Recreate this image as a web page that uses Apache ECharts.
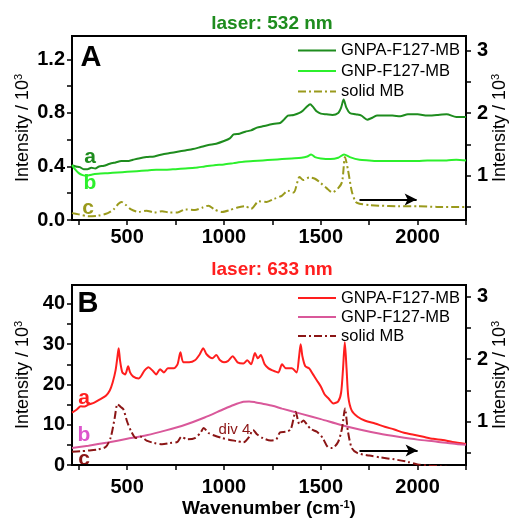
<!DOCTYPE html>
<html>
<head>
<meta charset="utf-8">
<script src="https://cdn.jsdelivr.net/npm/echarts@6/dist/echarts.min.js"></script>
<style>html,body{margin:0;padding:0;background:#fff}#c{width:509px;height:519px}</style>
</head>
<body>
<div id="c"></div>
<script>
// ---------- DATA ----------
var xTickLabels = [500, 1000, 1500, 2000];
var xTicks = [250, 500, 750, 1000, 1250, 1500, 1750, 2000, 2250];
var leftTicksA = [0, 0.2, 0.4, 0.6, 0.8, 1.0, 1.2];
var leftLabelsA = [0, 0.4, 0.8, 1.2];
var leftTicksB = [0, 5, 10, 15, 20, 25, 30, 35, 40];
var leftLabelsB = [0, 10, 20, 30, 40];
var rightTicks = [0.5, 1, 1.5, 2, 2.5, 3];
var rightLabels = [1, 2, 3];

// Panel A (532 nm)
var gnpaA = [[215,0.41],[235,0.40],[255,0.395],[275,0.38],[295,0.38],[315,0.39],[335,0.385],[355,0.40],[380,0.405],[410,0.42],[440,0.43],[470,0.44],[500,0.44],[530,0.45],[560,0.46],[600,0.47],[640,0.475],[680,0.49],[720,0.50],[760,0.51],[800,0.52],[840,0.53],[880,0.545],[920,0.56],[960,0.57],[1000,0.59],[1030,0.61],[1050,0.64],[1080,0.645],[1110,0.66],[1140,0.67],[1170,0.69],[1200,0.70],[1230,0.71],[1260,0.72],[1290,0.725],[1310,0.75],[1330,0.78],[1360,0.785],[1390,0.80],[1410,0.82],[1430,0.85],[1445,0.865],[1460,0.845],[1480,0.81],[1500,0.795],[1530,0.79],[1560,0.785],[1590,0.80],[1605,0.84],[1618,0.90],[1632,0.84],[1650,0.80],[1680,0.79],[1710,0.78],[1740,0.75],[1760,0.76],[1790,0.78],[1830,0.78],[1870,0.78],[1910,0.775],[1950,0.79],[2000,0.79],[2050,0.78],[2100,0.785],[2150,0.79],[2200,0.77],[2250,0.77]];
var gnpA = [[215,0.41],[230,0.38],[250,0.35],[270,0.335],[290,0.33],[320,0.34],[350,0.345],[400,0.35],[450,0.355],[500,0.36],[550,0.365],[600,0.37],[650,0.375],[700,0.375],[750,0.38],[800,0.385],[850,0.39],[900,0.40],[950,0.41],[1000,0.415],[1050,0.425],[1100,0.435],[1150,0.44],[1200,0.445],[1250,0.45],[1300,0.455],[1350,0.46],[1400,0.465],[1430,0.475],[1450,0.49],[1470,0.47],[1500,0.46],[1550,0.455],[1590,0.465],[1620,0.49],[1650,0.47],[1700,0.45],[1750,0.445],[1800,0.44],[1850,0.44],[1900,0.44],[1950,0.44],[2000,0.44],[2050,0.445],[2100,0.445],[2150,0.445],[2200,0.45],[2250,0.445]];
var mbA = [[215,0.40],[250,0.38],[300,0.35],[350,0.36],[400,0.40],[430,0.46],[455,0.55],[470,0.58],[490,0.54],[520,0.46],[560,0.42],[600,0.44],[640,0.41],[680,0.43],[720,0.41],[760,0.41],[800,0.46],[850,0.45],[890,0.49],[920,0.52],[950,0.46],[990,0.42],[1030,0.45],[1070,0.49],[1110,0.51],[1140,0.47],[1180,0.59],[1220,0.58],[1260,0.63],[1300,0.68],[1330,0.76],[1360,0.73],[1390,0.98],[1410,0.93],[1440,0.97],[1470,0.95],[1500,0.88],[1530,0.80],[1560,0.73],[1590,0.80],[1610,0.90],[1625,1.30],[1640,1.10],[1660,0.75],[1680,0.58],[1700,0.55],[1750,0.53],[1800,0.52],[1900,0.51],[2000,0.51],[2100,0.50],[2200,0.50],[2250,0.50]];
var arrowA = [[1700, 0.62], [1995, 0.62]];

// Panel B (633 nm)
var gnpaB = [[215,13.0],[240,13.8],[260,14.6],[280,14.5],[300,15.0],[330,15.5],[360,16.3],[390,17.2],[410,18.5],[425,20.5],[440,23.5],[450,27],[456,29],[463,26],[475,23],[490,22.5],[505,24.5],[515,23],[530,22],[560,21.5],[590,23.5],[610,24.3],[630,23.5],[650,22.5],[670,23.8],[690,23],[710,24],[740,24],[760,25],[775,28],[790,25.5],[820,25.5],[850,26],[875,27.5],[893,29],[910,27.5],[940,26.5],[960,27.3],[980,26],[1000,25.5],[1020,25.8],[1045,27],[1070,25.5],[1100,25.2],[1120,26],[1140,25],[1160,27.8],[1175,26.5],[1190,27.3],[1210,25],[1230,24],[1250,23.5],[1280,23],[1300,25],[1320,24],[1350,24],[1375,23],[1388,27],[1396,30],[1405,27],[1420,24.5],[1440,24],[1460,22.5],[1480,21],[1500,19.5],[1520,17.5],[1540,16.5],[1565,15.3],[1590,15.8],[1605,18],[1615,24],[1624,30.5],[1633,24],[1642,17],[1660,13.5],[1690,12],[1730,11],[1780,10.3],[1830,9.5],[1880,8.8],[1930,8],[1980,7.5],[2030,7],[2080,6.5],[2130,6.2],[2180,5.7],[2250,5.2]];
var gnpB = [[215,4.2],[300,4.8],[400,5.6],[500,6.5],[600,7.4],[700,8.6],[800,10.0],[900,11.8],[1000,13.9],[1050,14.9],[1100,15.7],[1130,15.8],[1160,15.6],[1200,15.2],[1250,14.7],[1300,14.0],[1400,12.7],[1500,11.4],[1600,10.0],[1700,8.8],[1800,7.8],[1900,7.0],[2000,6.3],[2100,5.8],[2200,5.2],[2250,5.0]];
var mbB = [[215,0.52],[260,0.53],[300,0.54],[350,0.56],[390,0.60],[415,0.75],[435,1.05],[450,1.28],[465,1.24],[480,1.20],[500,1.00],[520,0.85],[545,0.74],[570,0.76],[600,0.70],[640,0.66],[680,0.64],[720,0.66],[760,0.68],[780,0.76],[810,0.72],[850,0.74],[880,0.83],[895,0.90],[920,0.82],[950,0.78],[990,0.74],[1030,0.71],[1070,0.69],[1100,0.67],[1130,0.76],[1150,0.87],[1170,0.80],[1200,0.74],[1240,0.70],[1270,0.72],[1290,0.83],[1320,0.84],[1345,0.88],[1370,1.16],[1390,0.96],[1410,1.02],[1430,0.95],[1450,0.88],[1480,0.84],[1510,0.74],[1535,0.60],[1560,0.58],[1590,0.68],[1610,0.90],[1625,1.21],[1640,0.85],[1660,0.58],[1690,0.50],[1750,0.46],[1810,0.43],[1880,0.40],[1950,0.36],[2000,0.32],[2060,0.30],[2120,0.29],[2180,0.27],[2250,0.26]];
var arrowB = [[1700, 0.54], [2000, 0.54]];
var divLabel = [1054, 0.87];

// ---------- CHART ----------
var FONT = "'Liberation Sans', Arial, sans-serif";
var chart = echarts.init(document.getElementById('c'));

function xAxis(gridIndex, margin, name) {
  return {
    type: 'value', gridIndex: gridIndex, min: 215, max: 2250,
    axisLine: { lineStyle: { color: '#000', width: 2 } },
    axisTick: { show: true, length: 5, lineStyle: { color: '#000', width: 1.5 }, customValues: xTicks },
    axisLabel: { customValues: xTickLabels, margin: margin, color: '#000', fontSize: 20, fontWeight: 'bold', fontFamily: FONT,
      formatter: function (v) { return String(v); } },
    splitLine: { show: false },
    name: name || '', nameLocation: 'middle', nameGap: 34, nameMoveOverlap: false,
    nameTextStyle: { color: '#000', fontSize: 19, fontWeight: 'bold', fontFamily: FONT,
      rich: { sup: { fontSize: 11, fontWeight: 'bold', fontFamily: FONT, color: '#000', padding: [0, 0, 9, 0] } } }
  };
}
function yAxis(gridIndex, pos, min, max, ticks, labels, fmt, margin, gap) {
  return {
    type: 'value', gridIndex: gridIndex, position: pos, min: min, max: max,
    axisLine: { show: true, onZero: false, lineStyle: { color: '#000', width: 2 } },
    axisTick: { show: true, length: 5, lineStyle: { color: '#000', width: 1.5 }, customValues: ticks },
    axisLabel: { customValues: labels, margin: margin, color: '#000', fontSize: 20, fontWeight: 'bold', fontFamily: FONT, formatter: fmt },
    splitLine: { show: false },
    name: 'Intensity / 10{sup|3}', nameLocation: 'middle', nameGap: gap, nameRotate: 90, nameMoveOverlap: false,
    nameTextStyle: { color: '#000', fontSize: 18, fontFamily: FONT,
      rich: { sup: { fontSize: 11, fontFamily: FONT, color: '#000', padding: [0, 0, 9, 0] } } }
  };
}
function line(name, data, xi, yi, color, dashed, extra) {
  var s = {
    type: 'line', name: name, data: data, xAxisIndex: xi, yAxisIndex: yi,
    showSymbol: false, symbol: 'none', smooth: 0.25, clip: true, animation: false,
    lineStyle: { color: color, width: 2, type: dashed ? [8, 3, 2, 3] : 'solid' },
    itemStyle: { color: color }
  };
  if (extra) for (var k in extra) s[k] = extra[k];
  return s;
}
function arrowLine(pts) {
  return {
    silent: true, symbol: ['none', 'arrow'], symbolSize: [9, 12], animation: false,
    lineStyle: { color: '#000', width: 2, type: 'solid' }, label: { show: false },
    data: [[{ coord: pts[0] }, { coord: pts[1] }]]
  };
}
var legendText = { color: '#000', fontSize: 16.5, fontFamily: FONT };
function txt(x, y, t, color, size) {
  return { type: 'text', x: x, y: y, style: { text: t, fill: color, fontSize: size, fontWeight: 'bold', fontFamily: FONT, textAlign: 'center', textVerticalAlign: 'middle' } };
}

var cA1 = '#1e8c1e', cA2 = '#2cf02c', cA3 = '#9a9a1c';
var cB1 = '#ff1e1e', cB2 = '#d9589a', cB3 = '#8b1515';

chart.setOption({
  animation: false,
  grid: [
    { left: 72, right: 43, top: 36, height: 184, show: true, borderColor: '#000', borderWidth: 2, containLabel: false, outerBoundsMode: 'none' },
    { left: 72, right: 43, top: 285, height: 180, show: true, borderColor: '#000', borderWidth: 2, containLabel: false, outerBoundsMode: 'none' }
  ],
  xAxis: [xAxis(0, 7), xAxis(1, 12, 'Wavenumber (cm{sup|-1})')],
  yAxis: [
    yAxis(0, 'left', 0, 1.375, leftTicksA, leftLabelsA, function (v) { return v.toFixed(1); }, 7, 39),
    yAxis(0, 'right', 0.29, 3.235, rightTicks, rightLabels, function (v) { return String(v); }, 11, 24),
    yAxis(1, 'left', 0, 44.7, leftTicksB, leftLabelsB, function (v) { return String(v); }, 7, 39),
    yAxis(1, 'right', 0.31, 3.18, rightTicks, rightLabels, function (v) { return String(v); }, 11, 24)
  ],
  legend: [
    { orient: 'vertical', left: 297, top: 42, padding: 0, itemWidth: 38, itemHeight: 17, itemGap: 3.5,
      itemStyle: { opacity: 0 },
      textStyle: legendText, data: ['GNPA-F127-MB', 'GNP-F127-MB', 'solid MB'], selectedMode: false },
    { orient: 'vertical', left: 297, top: 289.5, padding: 0, itemWidth: 38, itemHeight: 17, itemGap: 2,
      itemStyle: { opacity: 0 },
      textStyle: legendText, data: ['GNPA-F127-MB ', 'GNP-F127-MB ', 'solid MB '], selectedMode: false,
      formatter: function (n) { return n.trim(); } }
  ],
  series: [
    line('GNPA-F127-MB', gnpaA, 0, 0, cA1, false),
    line('GNP-F127-MB', gnpA, 0, 0, cA2, false),
    line('solid MB', mbA, 0, 1, cA3, true, { markLine: arrowLine(arrowA) }),
    line('GNPA-F127-MB ', gnpaB, 1, 2, cB1, false),
    line('GNP-F127-MB ', gnpB, 1, 2, cB2, false),
    line('solid MB ', mbB, 1, 3, cB3, true, {
      markLine: arrowLine(arrowB),
      markPoint: { symbol: 'circle', symbolSize: 0, animation: false, silent: true,
        label: { show: true, position: 'inside', formatter: 'div 4', color: cB3, fontSize: 15, fontFamily: FONT },
        data: [{ coord: divLabel }] }
    })
  ],
  graphic: [
    txt(272, 24, 'laser: 532 nm', cA1, 19),
    txt(272, 270, 'laser: 633 nm', cB1, 19),
    txt(91, 58, 'A', '#000', 29),
    txt(88, 304, 'B', '#000', 29),
    txt(90, 157, 'a', cA1, 21),
    txt(90, 183, 'b', cA2, 21),
    txt(88, 208, 'c', cA3, 21),
    txt(84, 398, 'a', cB1, 21),
    txt(84, 435, 'b', '#dd55cc', 21),
    txt(84, 459, 'c', cB3, 21)
  ]
});
</script>
</body>
</html>
